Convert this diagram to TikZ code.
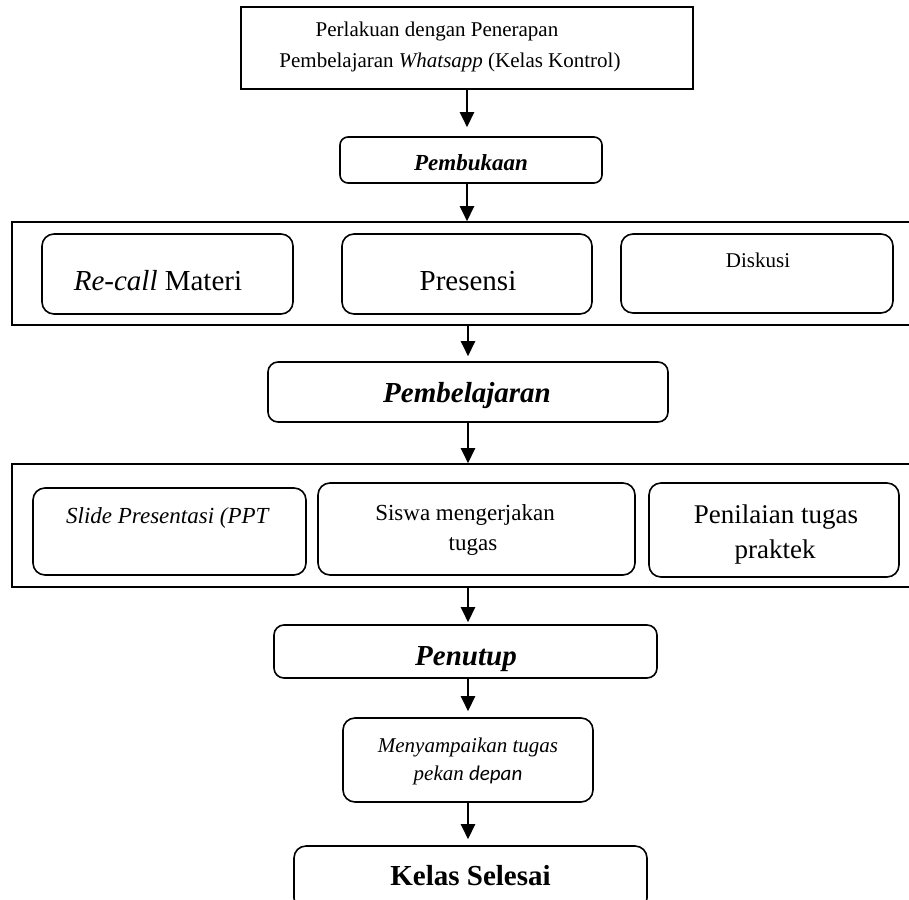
\documentclass[tikz,border=0pt]{standalone}
\usepackage{fontspec}
\setmainfont{Liberation Serif}
\newfontfamily\calibri{Carlito}
\usetikzlibrary{arrows.meta}
\newcommand{\ukuran}[1]{\fontsize{#1}{#1}\selectfont}
\begin{document}
\begin{tikzpicture}[x=1pt,y=-1pt]

      \tikzset{kotak/.style={draw, line width=1.6pt, inner sep=0pt},
               bulat/.style={kotak, rounded corners=12pt},
               teks/.style={anchor=base, inner sep=0pt},
               panah/.style={-{Triangle[width=14pt,length=15pt]}, line width=2.4pt}}
      \path[use as bounding box, clip] (0,0) rectangle (909,899);
%% Boxes
      	\node[kotak, minimum width=452pt, minimum height=82pt] (awal) at (467,48) {};
      	\node[bulat, rounded corners=8pt, minimum width=262pt, minimum height=46pt] (buka) at (471,160) {};
      	\node[kotak, minimum width=903pt, minimum height=103pt] (blok1) at (463.5,273.5) {};
      	\node[bulat, minimum width=251pt, minimum height=80pt] (recall) at (167.5,274) {};
      	\node[bulat, minimum width=250pt, minimum height=80pt] (presensi) at (467,274) {};
      	\node[bulat, minimum width=272pt, minimum height=79pt] (diskusi) at (757,273.5) {};
      	\node[bulat, rounded corners=10pt, minimum width=400pt, minimum height=60pt] (ajar) at (468,392) {};
      	\node[kotak, minimum width=903pt, minimum height=123pt] (blok2) at (463.5,525.5) {};
      	\node[bulat, minimum width=273pt, minimum height=87pt] (slide) at (169.5,531.5) {};
      	\node[bulat, minimum width=317pt, minimum height=92pt] (siswa) at (476.5,529) {};
      	\node[bulat, minimum width=250pt, minimum height=94pt] (nilai) at (774,530) {};
      	\node[bulat, rounded corners=10pt, minimum width=383pt, minimum height=53pt] (tutup) at (465.5,651.5) {};
      	\node[bulat, minimum width=250pt, minimum height=84pt] (tugas) at (468,760) {};
      	\node[bulat, minimum width=353pt, minimum height=64pt] (selesai) at (470.5,878) {};
%% Texts
      	\node[teks] (awal1) at (437,37) {\ukuran{21}Perlakuan dengan Penerapan};
      	\node[teks] (awal2) at (450,67) {\ukuran{21}Pembelajaran \textit{Whatsapp} (Kelas Kontrol)};
      	\node[teks] (bukaT) at (471,170) {\ukuran{23}\textbf{\textit{Pembukaan}}};
      	\node[teks] (recallT) at (158,290) {\ukuran{29}\textit{Re-call} Materi};
      	\node[teks] (presensiT) at (468,290) {\ukuran{29}Presensi};
      	\node[teks] (diskusiT) at (758,267) {\ukuran{21}Diskusi};
      	\node[teks] (ajarT) at (467,402) {\ukuran{29}\textbf{\textit{Pembelajaran}}};
      	\node[teks] (slideT) at (168,523) {\ukuran{23}\textit{Slide Presentasi (PPT}};
      	\node[teks] (siswa1) at (465,520) {\ukuran{23}Siswa mengerjakan};
      	\node[teks] (siswa2) at (473,550) {\ukuran{23}tugas};
      	\node[teks] (nilai1) at (776,523) {\ukuran{27}Penilaian tugas};
      	\node[teks] (nilai2) at (775,558) {\ukuran{27}praktek};
      	\node[teks] (tutupT) at (466,665) {\ukuran{29}\textbf{\textit{Penutup}}};
      	\node[teks] (tugas1) at (468,752) {\ukuran{21}\textit{Menyampaikan tugas}};
      	\node[teks] (tugas2) at (468,780) {\ukuran{21}\textit{pekan} {\calibri\itshape depan}};
      	\node[teks] (selesaiT) at (470.5,885) {\ukuran{29}\textbf{Kelas Selesai}};
%Arrows
		\path [panah] (awal.south) edge[shorten >=9pt] (awal.south |- buka.north);
		\path [panah] (buka.south -| awal.south) edge (awal.south |- blok1.north);
		\path [panah] (blok1.south -| ajar.south) edge[shorten >=5pt] (ajar.north);
		\path [panah] (ajar.south) edge (ajar.south |- blok2.north);
		\path [panah] (blok2.south -| ajar.south) edge[shorten >=2pt] (ajar.south |- tutup.north);
		\path [panah] (tutup.south -| tugas.south) edge[shorten >=6pt] (tugas.north);
		\path [panah] (tugas.south) edge[shorten >=6pt] (tugas.south |- selesai.north);

	\end{tikzpicture}
\end{document}
